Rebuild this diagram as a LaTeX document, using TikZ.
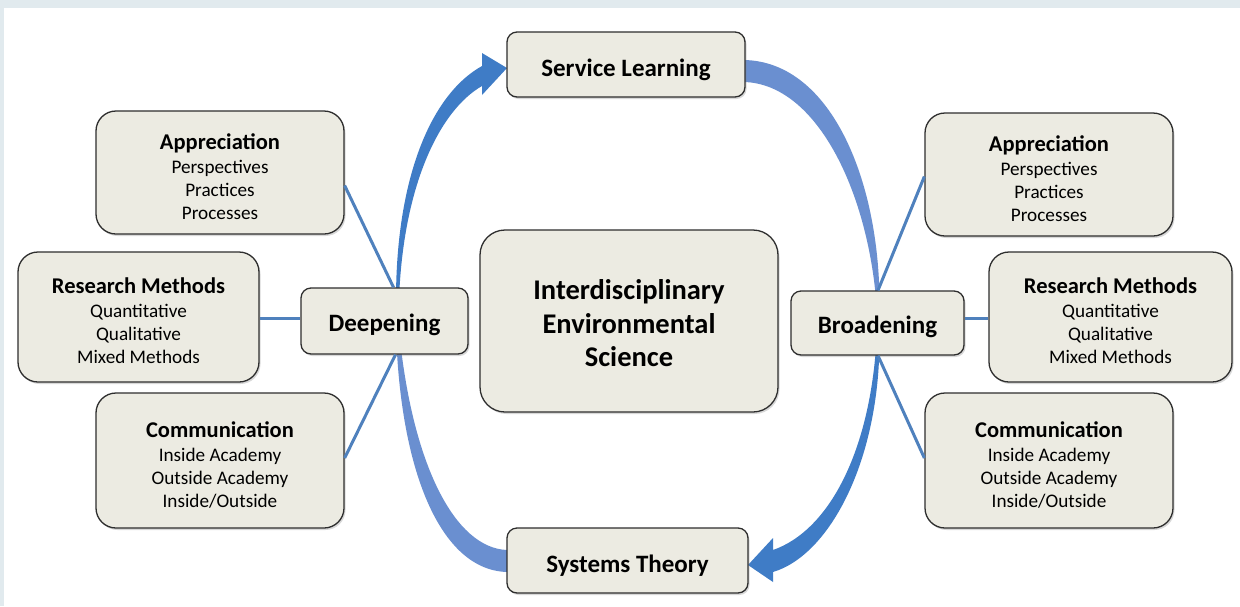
\documentclass[tikz,border=0pt]{standalone}
\usepackage{fontspec}
\setmainfont{Carlito}
\usetikzlibrary{shadows}
\definecolor{bgband}{HTML}{E1EAEE}
\definecolor{boxfill}{HTML}{ECEBE2}
\definecolor{boxline}{HTML}{2E2E2E}
\definecolor{linkblue}{HTML}{4F81BD}
\definecolor{arrdark}{HTML}{3F7CC6}
\definecolor{arrlight}{HTML}{6A8FD0}
\newcommand\boxhead[1]{{\bfseries\fontsize{22.5}{23}\selectfont\raisebox{0pt}[\dimexpr\height+8pt\relax]{#1}}}
\newcommand\lowered[2]{\raisebox{0pt}[\dimexpr\height+#1\relax]{#2}}
\begin{document}
\begin{tikzpicture}[x=1pt,y=-1pt,
  box/.style={draw=boxline, fill=boxfill, line width=1.3pt, inner sep=0pt, text=black,
    drop shadow={shadow xshift=1.5pt,shadow yshift=-2pt,opacity=0.3}},
  smallbox/.style={box, rounded corners=10pt, font=\bfseries\fontsize{25}{30}\selectfont},
  sidebox/.style={box, rounded corners=20pt, align=center, font=\fontsize{19.2}{23}\selectfont},
  link/.style={draw=linkblue, line width=3pt},
]
\useasboundingbox (0,0) rectangle (1240,606);
\fill[bgband] (0,0) rectangle (1240,606);
\fill[white] (4,8) rectangle (1240,606);

% big curved arrows
\fill[arrlight] (507,572) .. controls (440,570) and (400,470) .. (396,330) -- (399,330) .. controls (412,465) and (455,548) .. (507,550) -- cycle;
\fill[arrdark] (396,300) .. controls (396,180) and (430,95) .. (482,66) -- (482,53) -- (507,68) -- (482,95) -- (482,86) .. controls (440,110) and (403,185) .. (399,300) -- cycle;
\fill[arrlight] (740,60) .. controls (830,58) and (880,180) .. (879.5,305) -- (876.5,305) .. controls (868,190) and (815,80) .. (740,82) -- cycle;
\fill[arrdark] (876.5,340) .. controls (870,450) and (830,530) .. (773,550) -- (773,538) -- (748,565) -- (773,582) -- (773,572) .. controls (830,555) and (879.5,460) .. (879.5,340) -- cycle;

% nodes
\node[smallbox, minimum width=238pt, minimum height=65pt] (sl) at (626,64.5) {\lowered{10pt}{Service Learning}};
\node[smallbox, minimum width=241pt, minimum height=65pt] (st) at (627.5,560.5) {\lowered{10pt}{Systems Theory}};
\node[box, rounded corners=25pt, minimum width=298pt, minimum height=182pt, align=center,
  font=\bfseries\fontsize{28.5}{33.5}\selectfont] (ies) at (629,321) {\lowered{5pt}{Interdisciplinary}\\Environmental\\Science};
\node[smallbox, minimum width=167pt, minimum height=66pt] (deep) at (384.5,321) {\lowered{8pt}{Deepening}};
\node[smallbox, minimum width=173pt, minimum height=64pt] (broad) at (877.5,323) {\lowered{8pt}{Broadening}};

\node[sidebox, minimum width=248pt, minimum height=123pt] (la) at (220,172.5)
  {\boxhead{Appreciation}\\[1pt]Perspectives\\Practices\\Processes};
\node[sidebox, minimum width=241pt, minimum height=130pt] (lr) at (138.5,317)
  {\boxhead{Research Methods}\\[1pt]Quantitative\\Qualitative\\Mixed Methods};
\node[sidebox, minimum width=248pt, minimum height=135pt] (lc) at (220,460.5)
  {\boxhead{Communication}\\[1pt]Inside Academy\\Outside Academy\\Inside/Outside};
\node[sidebox, minimum width=248pt, minimum height=123pt] (ra) at (1049,174.5)
  {\boxhead{Appreciation}\\[1pt]Perspectives\\Practices\\Processes};
\node[sidebox, minimum width=243pt, minimum height=130pt] (rr) at (1110.5,317)
  {\boxhead{Research Methods}\\[1pt]Quantitative\\Qualitative\\Mixed Methods};
\node[sidebox, minimum width=248pt, minimum height=135pt] (rc) at (1049,460.5)
  {\boxhead{Communication}\\[1pt]Inside Academy\\Outside Academy\\Inside/Outside};

% connectors
\draw[link] ([xshift=9pt]deep.north) -- ([yshift=-13pt]la.east);
\draw[link] ([xshift=11pt]deep.south) -- ([yshift=2.5pt]lc.east);
\draw[link] ([yshift=-1pt]lr.east) -- ([yshift=-1pt]lr.east -| deep.west);
\draw[link] ([xshift=0.5pt]broad.north) -- ([yshift=-2pt]ra.west);
\draw[link] ([xshift=0.5pt]broad.south) -- ([yshift=2.5pt]rc.west);
\draw[link] ([yshift=-1pt]rr.west) -- ([yshift=-1pt]rr.west -| broad.east);
\end{tikzpicture}
\end{document}
